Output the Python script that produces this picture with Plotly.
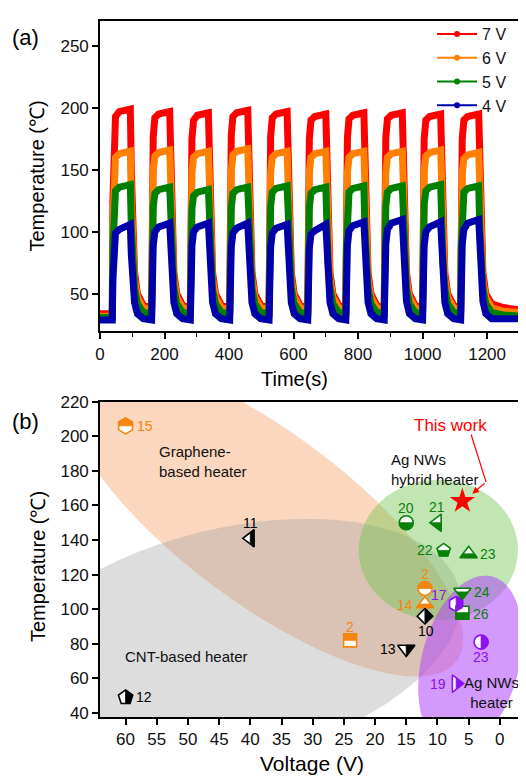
import math
import plotly.graph_objects as go

# ---------------- Panel (a): cyclic heating curves ----------------
cycle_on = [38, 160, 280, 402, 524, 644, 762, 881, 1000, 1118]   # s, heater switched on
heat_duration = 56                                               # s, heater on time
rise_offsets = [0, 2, 5, 10, 22]                                 # s after switch-on
fall_offsets = [0, 3, 7, 13, 22, 40]                             # s after switch-off
tail_times = [1250, 1302]

series_names = ["7 V", "6 V", "5 V", "4 V"]

red_t0 = 34
red_cycles = [
    [34, 125, 178, 193, 197, 199, 150, 100, 68, 50, 41],
    [39, 125, 177, 192, 195, 197, 148, 98, 67, 50, 41],
    [39, 123, 175, 190, 194, 196, 148, 98, 67, 50, 41],
    [39, 125, 178, 193, 196, 198, 150, 100, 68, 50, 41],
    [39, 125, 177, 192, 195, 197, 149, 99, 67, 50, 41],
    [39, 123, 175, 190, 193, 195, 148, 98, 67, 50, 41],
    [39, 124, 176, 191, 194, 196, 148, 98, 67, 50, 41],
    [39, 124, 176, 191, 194, 196, 148, 98, 67, 50, 41],
    [39, 123, 175, 190, 193, 195, 147, 98, 67, 50, 41],
    [39, 123, 175, 190, 193, 195, 147, 98, 67, 50, 42],
]
red_tail = [39, 37]

orange_t0 = 32
orange_cycles = [
    [32, 105, 148, 160, 163, 165, 125, 88, 62, 47, 39],
    [37, 106, 149, 161, 164, 166, 126, 88, 62, 47, 39],
    [37, 105, 148, 160, 163, 165, 125, 88, 62, 47, 39],
    [37, 106, 149, 162, 165, 167, 126, 89, 62, 47, 39],
    [37, 105, 148, 160, 163, 165, 125, 88, 62, 47, 39],
    [37, 105, 148, 160, 163, 165, 125, 88, 62, 47, 39],
    [37, 105, 148, 160, 163, 165, 125, 88, 62, 47, 39],
    [37, 105, 148, 160, 163, 165, 125, 88, 62, 47, 39],
    [37, 106, 149, 161, 164, 166, 126, 88, 62, 47, 39],
    [37, 104, 147, 159, 162, 164, 124, 87, 61, 47, 39],
]
orange_tail = [36, 35]

green_t0 = 31
green_cycles = [
    [31, 88, 122, 133, 136, 138, 105, 76, 55, 42, 35],
    [34, 87, 120, 131, 134, 136, 104, 75, 55, 42, 35],
    [34, 86, 119, 129, 132, 134, 103, 74, 54, 42, 35],
    [34, 87, 120, 131, 134, 136, 104, 75, 55, 42, 35],
    [34, 88, 121, 132, 135, 137, 105, 75, 55, 42, 35],
    [34, 87, 120, 131, 134, 136, 104, 75, 55, 42, 35],
    [34, 88, 121, 132, 135, 137, 105, 75, 55, 42, 35],
    [34, 88, 121, 132, 135, 137, 105, 75, 55, 42, 35],
    [34, 88, 122, 133, 136, 138, 105, 76, 55, 42, 35],
    [34, 88, 121, 132, 135, 137, 105, 75, 55, 42, 35],
]
green_tail = [33, 32]

blue_t0 = 29
blue_cycles = [
    [29, 62, 88, 99, 102, 106, 82, 58, 43, 34, 30],
    [29, 62, 89, 100, 104, 107, 83, 58, 43, 34, 30],
    [29, 62, 89, 100, 104, 107, 83, 58, 43, 34, 30],
    [29, 62, 88, 99, 103, 107, 83, 58, 43, 34, 30],
    [29, 62, 88, 99, 103, 106, 82, 58, 43, 34, 30],
    [29, 61, 87, 98, 101, 106, 82, 58, 43, 34, 30],
    [29, 62, 89, 101, 105, 108, 83, 59, 43, 34, 30],
    [29, 63, 90, 102, 107, 110, 84, 59, 44, 34, 30],
    [29, 62, 89, 100, 104, 108, 83, 59, 43, 34, 30],
    [29, 63, 90, 102, 107, 110, 84, 59, 44, 34, 30],
]
blue_tail = [30, 30]

x_ticks_a = [0, 200, 400, 600, 800, 1000, 1200]
y_ticks_a = [50, 100, 150, 200, 250]

# ---------------- Panel (b): literature comparison ----------------
ref_labels = ["15", "11", "20", "21", "22", "23", "2", "14", "10", "17", "24", "26", "2", "13", "23", "19", "12"]
ref_voltage = [60, 40, 15, 10, 9, 5, 12, 12, 12, 7, 6, 6, 24, 15, 3, 7, 60]
ref_temperature = [206, 141, 150, 150, 134, 132, 112, 103, 96, 103, 110, 98, 82, 77, 81, 57, 49]
ref_heater_type = ["graphene", "cnt", "hybrid", "hybrid", "hybrid", "hybrid", "graphene", "graphene", "cnt",
                   "agnw", "hybrid", "hybrid", "graphene", "cnt", "agnw", "agnw", "cnt"]
this_work_voltage = [6]
this_work_temperature = [162.5]

x_ticks_b = [60, 55, 50, 45, 40, 35, 30, 25, 20, 15, 10, 5, 0]
y_ticks_b = [40, 60, 80, 100, 120, 140, 160, 180, 200, 220]

# ---------------- layout geometry (page pixels; page body has an 8 px margin) ----------------
BODY = 8
W, H = 526 - BODY, 777 - BODY
ML, MR, MT, MB = 100 - BODY, 4, 13 - BODY, 60
PW, PH = W - ML - MR, H - MT - MB
FONT = "Liberation Sans, Arial, sans-serif"


def paper_x(page_x):
    return (page_x - BODY - ML) / PW


def paper_y(page_y):
    return (H - MB - (page_y - BODY)) / PH


line_colors = ["#FF0000", "#FF8000", "#008000", "#0000AA"]
type_colors = {"graphene": "#F5850F", "cnt": "#000000", "hybrid": "#0A7F0A", "agnw": "#8C10F0"}
# symbol, filled half, size, label side, label shift (dx, dy) px
ref_style = [
    ("hexagon", "top", 16, "right", (9, 0)),
    ("triangle-left", "right", 15, "top", (0, 15)),
    ("circle", "bottom", 14, "top", (0, 15)),
    ("triangle-left", "bottom", 15, "top", (0, 16)),
    ("pentagon", "bottom", 14, "left", (-9, 0)),
    ("triangle-up", "bottom", 15, "right", (9, 0)),
    ("circle", "top", 14, "top", (0, 14)),
    ("triangle-up", "bottom", 15, "left", (-10, -1)),
    ("diamond", "right", 12, "bottom", (1, -15)),
    ("hexagon", "right", 15, "left", (-7, 9)),
    ("triangle-down", "bottom", 15, "right", (10, 0)),
    ("square", "bottom", 13, "right", (9, -1)),
    ("square", "top", 13, "top", (0, 13)),
    ("triangle-down", "right", 15, "left", (-8, 0)),
    ("circle", "right", 14, "bottom", (0, -15)),
    ("triangle-right", "right", 15, "left", (-8, 0)),
    ("pentagon", "right", 15, "right", (8, 0)),
]

xa_range = [0, 1302]
ya_range = [19.7, 270]
xb_range = [64.1, -3.24]
yb_range = [37.7, 220]
dom_a = [paper_y(327), 1.0]
dom_b = [0.0, paper_y(398)]

fig = go.Figure()


# ---- panel (a) traces ----
def build_time():
    t = [0]
    for on in cycle_on:
        t += [on + o for o in rise_offsets]
        t += [on + heat_duration + o for o in fall_offsets]
    return t + tail_times


time_axis = build_time()
for name, col, t0, cyc, tail in zip(series_names, line_colors,
                                     [red_t0, orange_t0, green_t0, blue_t0],
                                     [red_cycles, orange_cycles, green_cycles, blue_cycles],
                                     [red_tail, orange_tail, green_tail, blue_tail]):
    vals = [t0] + [v for c in cyc for v in c] + tail
    fig.add_trace(go.Scatter(x=time_axis, y=vals, mode="lines", line=dict(color=col, width=7),
                             showlegend=False, hoverinfo="skip", xaxis="x", yaxis="y"))
for name, col in zip(series_names, line_colors):
    fig.add_trace(go.Scatter(x=[None], y=[None], mode="lines+markers", name=name,
                             line=dict(color=col, width=2), marker=dict(color=col, size=6),
                             xaxis="x", yaxis="y"))

# ---- panel (b): heater regions ----
sx = PW / (xb_range[0] - xb_range[1])                          # px per volt
sy = PH * (dom_b[1] - dom_b[0]) / (yb_range[1] - yb_range[0])   # px per degree
regions = [  # center V, center T, semi-axis a px, semi-axis b px, angle deg (clockwise on screen), fill
    (37.8, 153.1, 242, 86, 37, "rgba(245,155,95,0.40)"),
    (43.7, 78.9, 240, 118, -14, "rgba(160,160,160,0.36)"),
    (9.85, 134.3, 80, 71, 0, "rgba(110,195,75,0.42)"),
    (4.74, 69.1, 49, 90, 14, "rgba(175,70,250,0.55)"),
]
for cv, ct, a, b, ang, fill in regions:
    th = math.radians(ang)
    pts = []
    for k in range(73):
        ph = 2 * math.pi * k / 72
        dx = a * math.cos(ph) * math.cos(th) - b * math.sin(ph) * math.sin(th)
        dy = a * math.cos(ph) * math.sin(th) + b * math.sin(ph) * math.cos(th)
        pts.append((cv - dx / sx, ct - dy / sy))
    path = "M " + " L ".join(f"{v:.3f},{t:.3f}" for v, t in pts) + " Z"
    fig.add_shape(type="path", path=path, xref="x2", yref="y2", fillcolor=fill,
                  line=dict(width=0), layer="below")


# ---- panel (b): markers ----
def symbol_polygon(sym, r):
    rt = r * 2 / math.sqrt(3)
    if sym == "circle":
        return [(r * math.cos(2 * math.pi * k / 48), r * math.sin(2 * math.pi * k / 48)) for k in range(48)]
    if sym == "square":
        return [(r, r), (-r, r), (-r, -r), (r, -r)]
    if sym == "diamond":
        rd = r * 1.3
        return [(rd, 0), (0, rd), (-rd, 0), (0, -rd)]
    if sym == "triangle-up":
        return [(-rt, r / 2), (rt, r / 2), (0, -r)]
    if sym == "triangle-down":
        return [(-rt, -r / 2), (rt, -r / 2), (0, r)]
    if sym == "triangle-left":
        return [(r / 2, -rt), (r / 2, rt), (-r, 0)]
    if sym == "triangle-right":
        return [(-r / 2, -rt), (-r / 2, rt), (r, 0)]
    if sym == "pentagon":
        x1, x2, y0, y1, y2 = r * 0.951, r * 0.588, -r, -r * 0.309, r * 0.809
        return [(x1, y1), (x2, y2), (-x2, y2), (-x1, y1), (0, y0)]
    if sym == "hexagon":
        y1, y2 = r / 2, r * math.sqrt(3) / 2
        return [(y2, -y1), (y2, y1), (0, r), (-y2, y1), (-y2, -y1), (0, -r)]
    return []


def clip_half(poly, side):
    def inside(p):
        return {"top": p[1] <= 0, "bottom": p[1] >= 0, "left": p[0] <= 0, "right": p[0] >= 0}[side]

    def cross(p, q):
        if side in ("top", "bottom"):
            t = p[1] / (p[1] - q[1])
        else:
            t = p[0] / (p[0] - q[0])
        return (p[0] + t * (q[0] - p[0]), p[1] + t * (q[1] - p[1]))

    out = []
    for i in range(len(poly)):
        cur, prev = poly[i], poly[i - 1]
        if inside(cur):
            if not inside(prev):
                out.append(cross(prev, cur))
            out.append(cur)
        elif inside(prev):
            out.append(cross(prev, cur))
    return out


for lab, v, t, typ, (sym, half, size, side, (lx, ly)) in zip(ref_labels, ref_voltage, ref_temperature,
                                                              ref_heater_type, ref_style):
    col = type_colors[typ]
    fig.add_trace(go.Scatter(x=[v], y=[t], mode="markers", xaxis="x2", yaxis="y2", showlegend=False,
                             marker=dict(symbol=sym, size=size, color="white",
                                         line=dict(color=col, width=1.6))))
    poly = clip_half(symbol_polygon(sym, size / 2), half)
    path = "M " + " L ".join(f"{px:.2f},{-py:.2f}" for px, py in poly) + " Z"
    fig.add_shape(type="path", path=path, xref="x2", yref="y2", xsizemode="pixel", ysizemode="pixel",
                  xanchor=v, yanchor=t, fillcolor=col, line=dict(color=col, width=0.8), layer="above")
    xanchor = {"right": "left", "left": "right"}.get(side, "center")
    fig.add_annotation(x=v, y=t, xref="x2", yref="y2", text=lab, showarrow=False, xanchor=xanchor,
                       yanchor="middle", xshift=lx, yshift=ly,
                       font=dict(family=FONT, size=14, color=col))

fig.add_trace(go.Scatter(x=this_work_voltage, y=this_work_temperature, mode="markers", xaxis="x2", yaxis="y2",
                         showlegend=False, marker=dict(symbol="star", size=19, color="#FF0000",
                                                       line=dict(width=0))))

# region labels
region_text = [
    ("Graphene-<br>based heater", 55.0, 185.2, "left"),
    ("Ag NWs<br>hybrid heater", 17.8, 180.6, "left"),
    ("CNT-based heater", 60.4, 72.6, "left"),
    ("Ag NWs<br>heater", 1.3, 52.0, "center"),
]
for txt, v, t, al in region_text:
    fig.add_annotation(x=v, y=t, xref="x2", yref="y2", text=txt, showarrow=False, xanchor=al,
                       yanchor="middle", align=al, font=dict(family=FONT, size=15, color="#111111"))

fig.add_annotation(x=7.9, y=206.3, xref="x2", yref="y2", text="This work", showarrow=False,
                   xanchor="center", yanchor="middle",
                   font=dict(family=FONT, size=17, color="#FF0000"))
fig.add_shape(type="line", x0=4.6, y0=201, x1=2.2, y1=173.5, xref="x2", yref="y2",
              line=dict(color="#FF0000", width=1.2))
fig.add_annotation(x=4.4, y=166.8, ax=2.2, ay=173.5, xref="x2", yref="y2", axref="x2", ayref="y2",
                   text="", showarrow=True, arrowhead=2, arrowsize=1.1, arrowwidth=1.2,
                   arrowcolor="#FF0000")


# ---- titles / panel labels ----
def ann(text, page_x, page_y, size, angle=0):
    fig.add_annotation(x=paper_x(page_x), y=paper_y(page_y), xref="paper", yref="paper", text=text,
                       showarrow=False, textangle=angle, xanchor="center", yanchor="middle",
                       font=dict(family=FONT, size=size, color="#000000"))


ann("(a)", 25, 30, 22)
ann("(b)", 25, 418, 22)
ann("Temperature (℃)", 37, 170, 20, -90)
ann("Temperature (℃)", 37, 565, 20, -90)
ann("Time(s)", 295, 375, 20)
ann("Voltage (V)", 313, 764, 21)

axis_common = dict(showline=True, linecolor="#000000", linewidth=1.6, mirror=True, ticks="outside",
                   ticklen=6, tickwidth=1.5, tickcolor="#000000", showgrid=False, zeroline=False,
                   tickfont=dict(family=FONT, size=17, color="#111111"))

fig.update_layout(
    width=W, height=H, margin=dict(l=ML, r=MR, t=MT, b=MB),
    paper_bgcolor="white", plot_bgcolor="white",
    font=dict(family=FONT),
    xaxis=dict(domain=[0, 1], range=xa_range, tickvals=x_ticks_a, anchor="y",
               minor=dict(ticks="outside", ticklen=4, tickwidth=1.3, tickcolor="#000000", dtick=100),
               **axis_common),
    yaxis=dict(domain=dom_a, range=ya_range, tickvals=y_ticks_a, anchor="x", **axis_common),
    xaxis2=dict(domain=[0, 1], range=xb_range, tickvals=x_ticks_b, anchor="y2", **axis_common),
    yaxis2=dict(domain=dom_b, range=yb_range, tickvals=y_ticks_b, anchor="x2", **axis_common),
    legend=dict(x=paper_x(514), y=paper_y(9), xanchor="right", yanchor="top",
                bgcolor="rgba(0,0,0,0)", font=dict(family=FONT, size=16, color="#111111"),
                tracegroupgap=0, itemwidth=40),
    showlegend=True,
)

fig.write_html("out.html")
